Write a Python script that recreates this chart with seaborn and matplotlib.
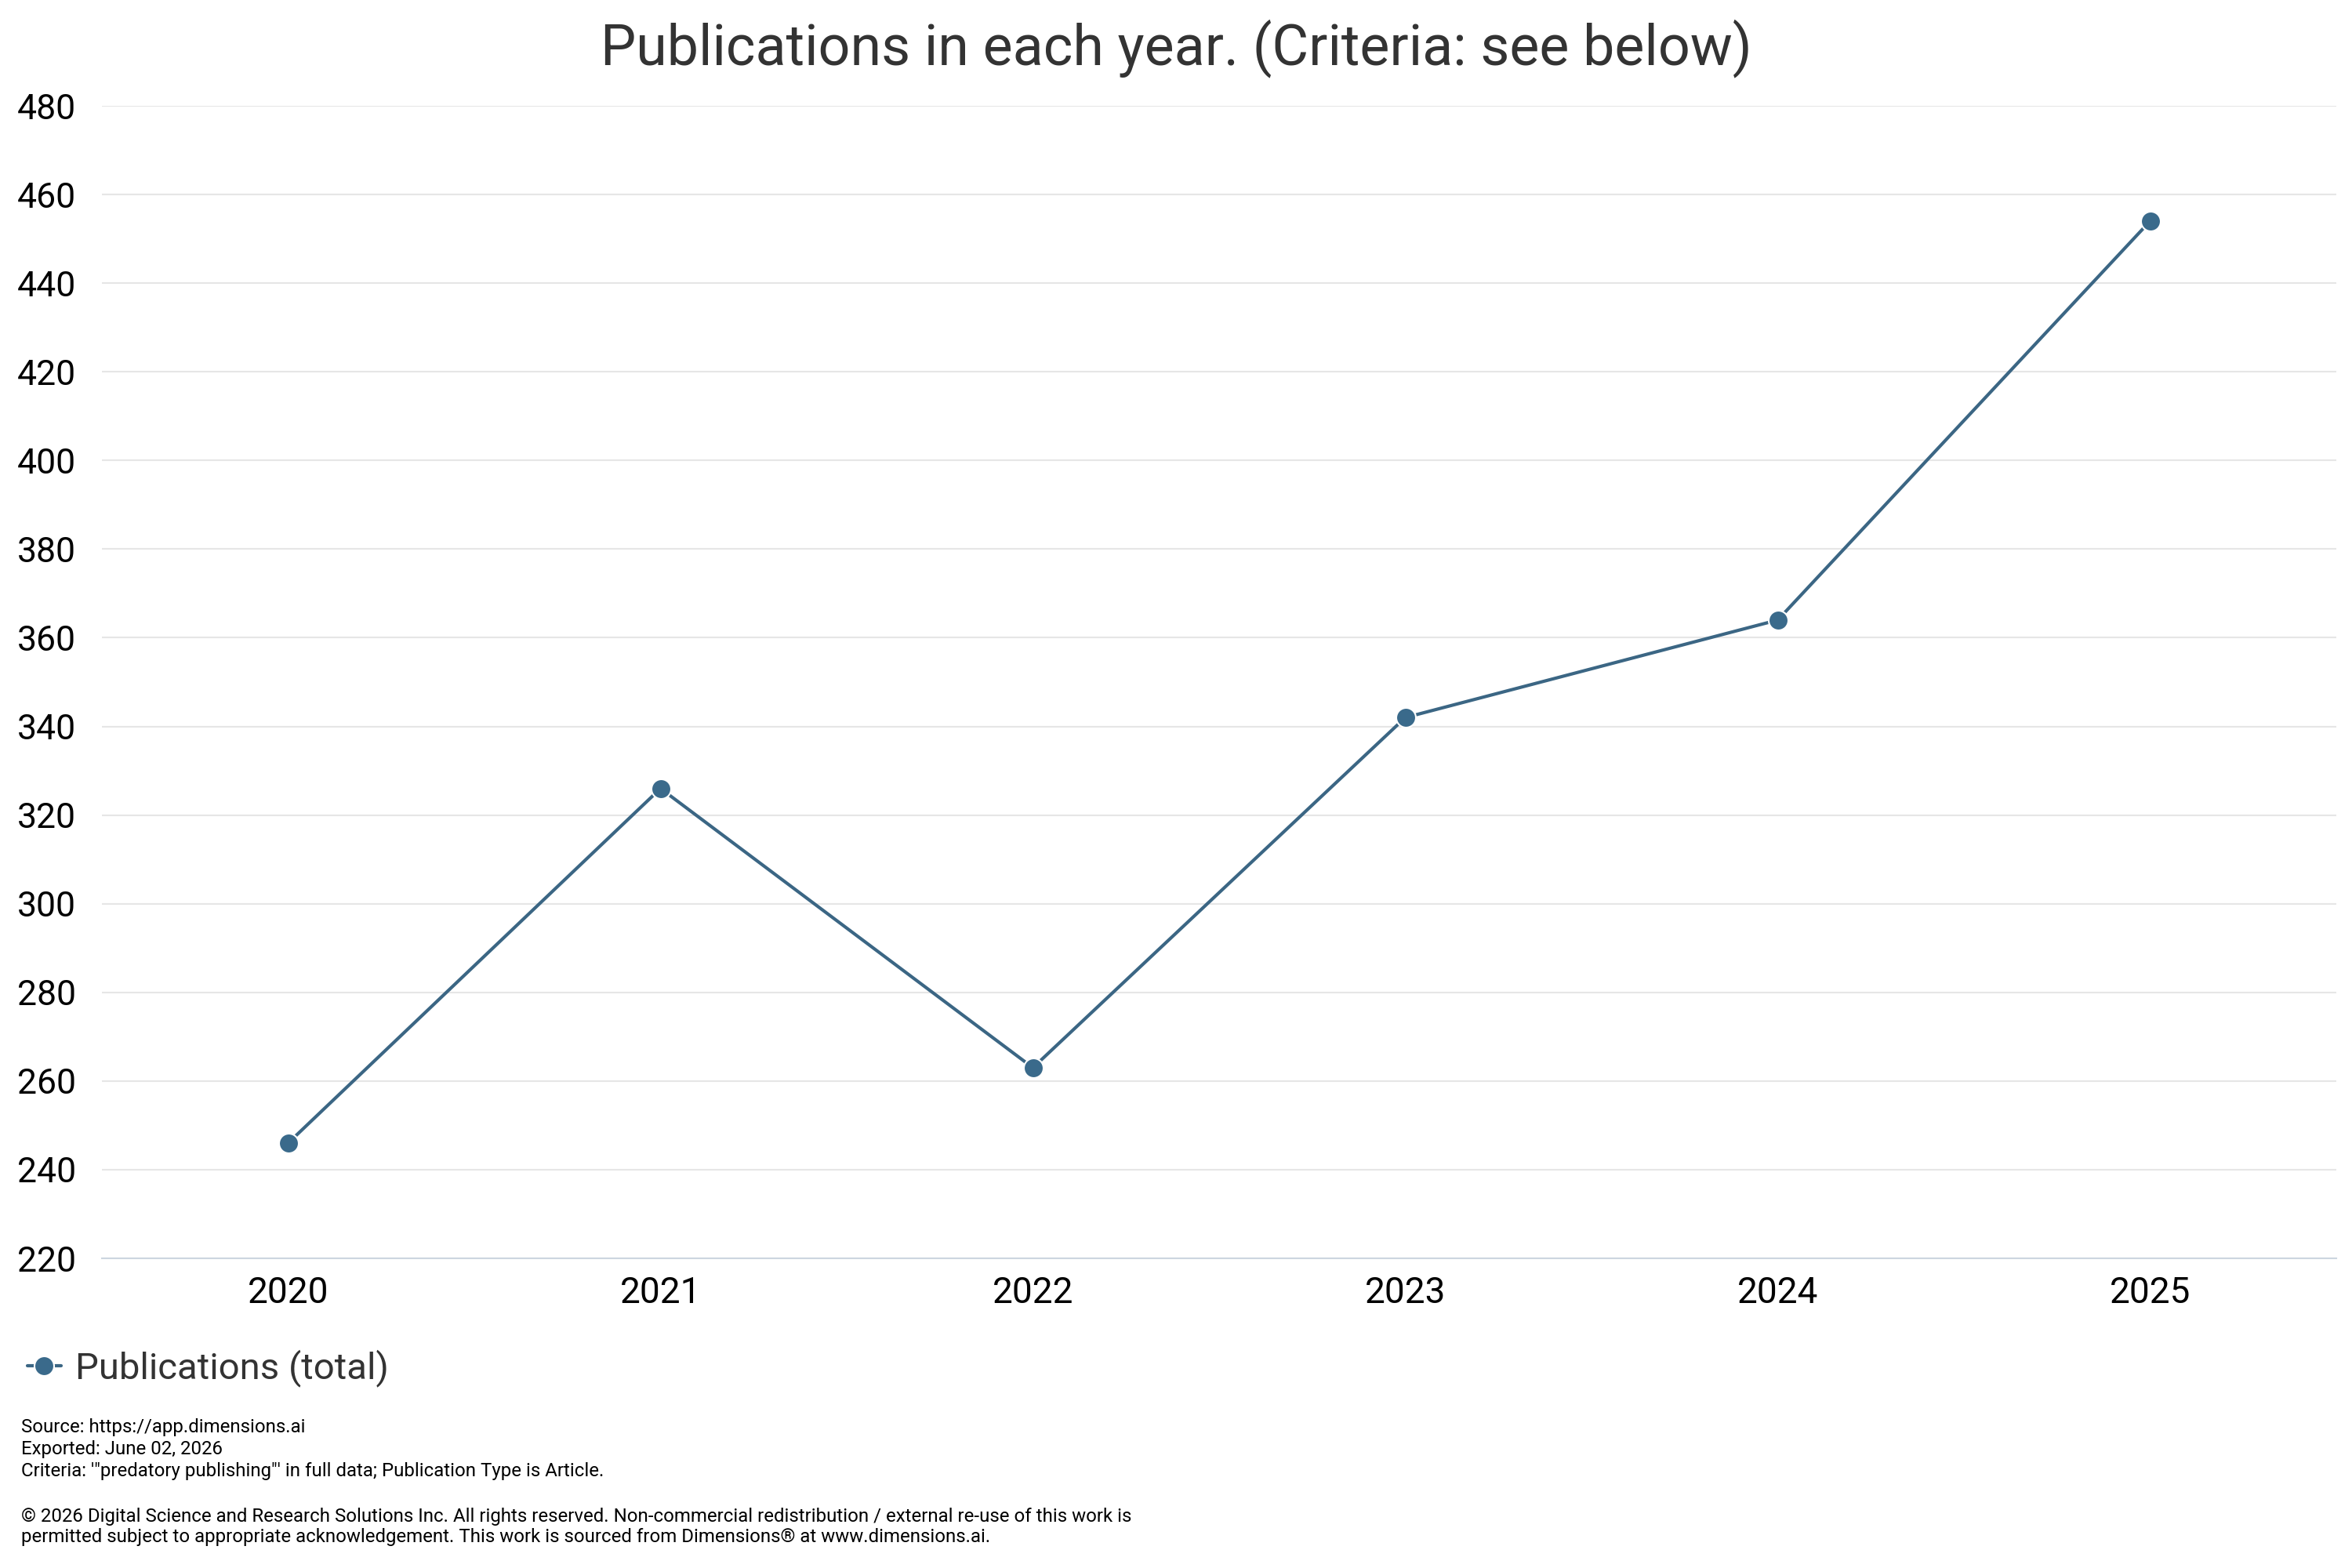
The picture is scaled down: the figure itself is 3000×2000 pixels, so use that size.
import matplotlib
matplotlib.use("Agg")
import matplotlib.pyplot as plt
import pandas as pd
import seaborn as sns

# Data
years = ["2020", "2021", "2022", "2023", "2024", "2025"]
publications = [246, 326, 263, 342, 364, 454]
y_ticks = list(range(220, 481, 20))

title = "Publications in each year. (Criteria: see below)"
series_label = "Publications (total)"
footer_lines = [
    "Source: https://app.dimensions.ai",
    "Exported: June 02, 2026",
    "Criteria: '\"predatory publishing\"' in full data; Publication Type is Article.",
    "\u00a9 2026 Digital Science and Research Solutions Inc. All rights reserved. "
    "Non-commercial redistribution / external re-use of this work is",
    "permitted subject to appropriate acknowledgement. This work is sourced "
    "from Dimensions\u00ae at www.dimensions.ai.",
]

LINE_COLOR = "#3b6684"
MARKER_COLOR = "#3a6a8b"

sns.set_style("white")
plt.rcParams["font.family"] = ["Roboto", "DejaVu Sans"]

df = pd.DataFrame({"year": years, "publications": publications})

fig = plt.figure(figsize=(30, 20), dpi=100)
ax = fig.add_axes([130 / 3000, 1 - 1605 / 2000, 2850 / 3000, 1470 / 2000])

sns.lineplot(
    data=df,
    x="year",
    y="publications",
    ax=ax,
    color=LINE_COLOR,
    linewidth=3,
    marker="o",
    markersize=18,
    markerfacecolor=MARKER_COLOR,
    markeredgecolor="white",
    markeredgewidth=1.5,
    label=series_label,
    legend=False,
)

ax.set_xlim(-0.5, len(years) - 0.5)
ax.set_ylim(220, 480)
ax.set_yticks(y_ticks)
ax.set_yticklabels([str(t) for t in y_ticks])
ax.set_xlabel("")
ax.set_ylabel("")
ax.yaxis.grid(True, color="#e6e6e6", linewidth=1.5)
ax.xaxis.grid(False)
for side in ["top", "right", "left"]:
    ax.spines[side].set_visible(False)
ax.spines["bottom"].set_color("#ccd6e0")
ax.spines["bottom"].set_linewidth(1.5)
ax.tick_params(axis="y", length=0, pad=24, labelsize=32, labelcolor="black")
ax.tick_params(axis="x", length=0, pad=16, labelsize=33, labelcolor="black")

# Title
fig.text(0.5, 1 - 82 / 2000, title, ha="center", va="baseline",
         fontsize=51.7, color="#333333")

# Legend below the plot
handles, labels = ax.get_legend_handles_labels()
fig.legend(
    handles,
    labels,
    loc="center left",
    bbox_to_anchor=(35 / 3000, 1 - 1745 / 2000),
    frameon=False,
    fontsize=34,
    handlelength=0.9,
    handletextpad=0.4,
    borderpad=0,
    borderaxespad=0,
    labelcolor="#333333",
)

# Footer notes
footer_y = [1820, 1848, 1876, 1934, 1961]
for text, y in zip(footer_lines, footer_y):
    fig.text(27 / 3000, 1 - y / 2000, text, ha="left", va="center",
             fontsize=17.3, color="black")

fig.savefig("out.png", dpi=100, facecolor="white")
